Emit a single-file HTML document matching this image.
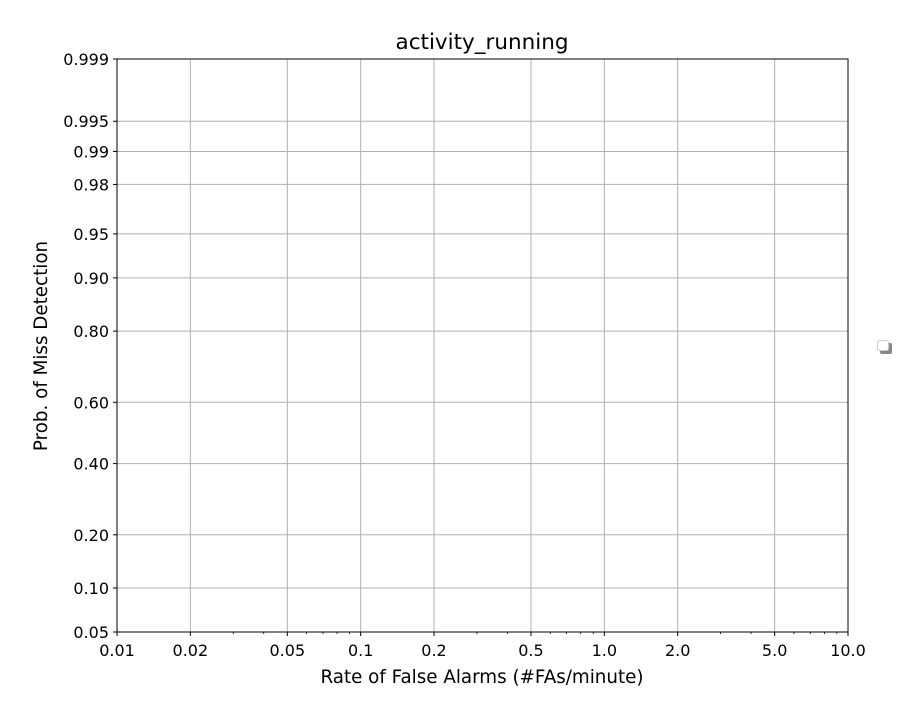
<!DOCTYPE html>
<html><head><meta charset="utf-8"><style>
body{margin:0;background:#fff}
text{font-family:"DejaVu Sans","Liberation Sans",sans-serif;fill:#000}
</style></head><body>
<svg id="chart" width="920" height="720" xmlns="http://www.w3.org/2000/svg">
<rect width="920" height="720" fill="#fff"/>
<g id="grid"></g>
<rect x="117" y="59" width="731" height="573" fill="none" stroke="#000" stroke-width="1"/>
<g id="ticks"></g>
<text x="482" y="49" font-size="21.5" text-anchor="middle">activity_running</text>
<text x="482" y="683" font-size="18.3" text-anchor="middle">Rate of False Alarms (#FAs/minute)</text>
<text transform="translate(47,346) rotate(-90)" font-size="18.3" text-anchor="middle">Prob. of Miss Detection</text>
<g>
<rect x="880" y="343" width="12" height="11" rx="2" fill="#888"/>
<rect x="877.5" y="340.5" width="11" height="10" rx="2" fill="#fff" stroke="#ccc"/>
</g>
</svg>
<script>
const xTicks=[0.01,0.02,0.05,0.1,0.2,0.5,1.0,2.0,5.0,10.0];
const xTickLabels=["0.01","0.02","0.05","0.1","0.2","0.5","1.0","2.0","5.0","10.0"];
const yTicks=[0.05,0.10,0.20,0.40,0.60,0.80,0.90,0.95,0.98,0.99,0.995,0.999];
const yTickLabels=["0.05","0.10","0.20","0.40","0.60","0.80","0.90","0.95","0.98","0.99","0.995","0.999"];
const L=117,R=848,T=59,B=632,X0=0.01,X1=10,Y0=0.05,Y1=0.999;
function ppf(p){const a=[-39.6968302866538,220.946098424521,-275.928510446969,138.357751867269,-30.6647980661472,2.50662827745924],
b=[-54.4760987982241,161.585836858041,-155.698979859887,66.8013118877197,-13.2806815528857],
c=[-0.00778489400243029,-0.322396458041136,-2.40075827716184,-2.54973253934373,4.37466414146497,2.93816398269878],
d=[0.00778469570904146,0.32246712907004,2.445134137143,3.75440866190742];
let q,r;if(p<0.02425){q=Math.sqrt(-2*Math.log(p));return(((((c[0]*q+c[1])*q+c[2])*q+c[3])*q+c[4])*q+c[5])/((((d[0]*q+d[1])*q+d[2])*q+d[3])*q+1);}
if(p>1-0.02425){q=Math.sqrt(-2*Math.log(1-p));return-(((((c[0]*q+c[1])*q+c[2])*q+c[3])*q+c[4])*q+c[5])/((((d[0]*q+d[1])*q+d[2])*q+d[3])*q+1);}
q=p-0.5;r=q*q;return(((((a[0]*r+a[1])*r+a[2])*r+a[3])*r+a[4])*r+a[5])*q/(((((b[0]*r+b[1])*r+b[2])*r+b[3])*r+b[4])*r+1);}
const xs=v=>L+(Math.log10(v)-Math.log10(X0))/(Math.log10(X1)-Math.log10(X0))*(R-L);
const ys=v=>B-(ppf(v)-ppf(Y0))/(ppf(Y1)-ppf(Y0))*(B-T);
const NS="http://www.w3.org/2000/svg";
const grid=document.getElementById('grid'),tk=document.getElementById('ticks');
function mk(tag,attrs,parent,txt){const e=document.createElementNS(NS,tag);for(const k in attrs)e.setAttribute(k,attrs[k]);if(txt!==undefined)e.textContent=txt;parent.appendChild(e);return e;}
xTicks.forEach((v,i)=>{const x=xs(v);
const g=mk('line',{x1:x,x2:x,y1:T,y2:B,stroke:'#b0b0b0','stroke-width':1},grid);


mk('line',{x1:x,x2:x,y1:B,y2:B+4,stroke:'#000'},tk);
const t=mk('text',{x:x,y:B+24,'font-size':16,'text-anchor':'middle'},tk,xTickLabels[i]);

});
for(let e=-2;e<1;e++)for(let m=2;m<10;m++){const v=m*Math.pow(10,e);if(m===2||m===5)continue;const x=xs(v);
mk('line',{x1:x,x2:x,y1:B,y2:B+2,stroke:'#000','stroke-width':0.8},tk);}
yTicks.forEach((v,i)=>{const y=ys(v);
const g=mk('line',{x1:L,x2:R,y1:y,y2:y,stroke:'#b0b0b0','stroke-width':1},grid);


mk('line',{x1:L-4,x2:L,y1:y,y2:y,stroke:'#000'},tk);
const t=mk('text',{x:L-8,y:y+6,'font-size':16,'text-anchor':'end'},tk,yTickLabels[i]);

});
</script>
</body></html>
